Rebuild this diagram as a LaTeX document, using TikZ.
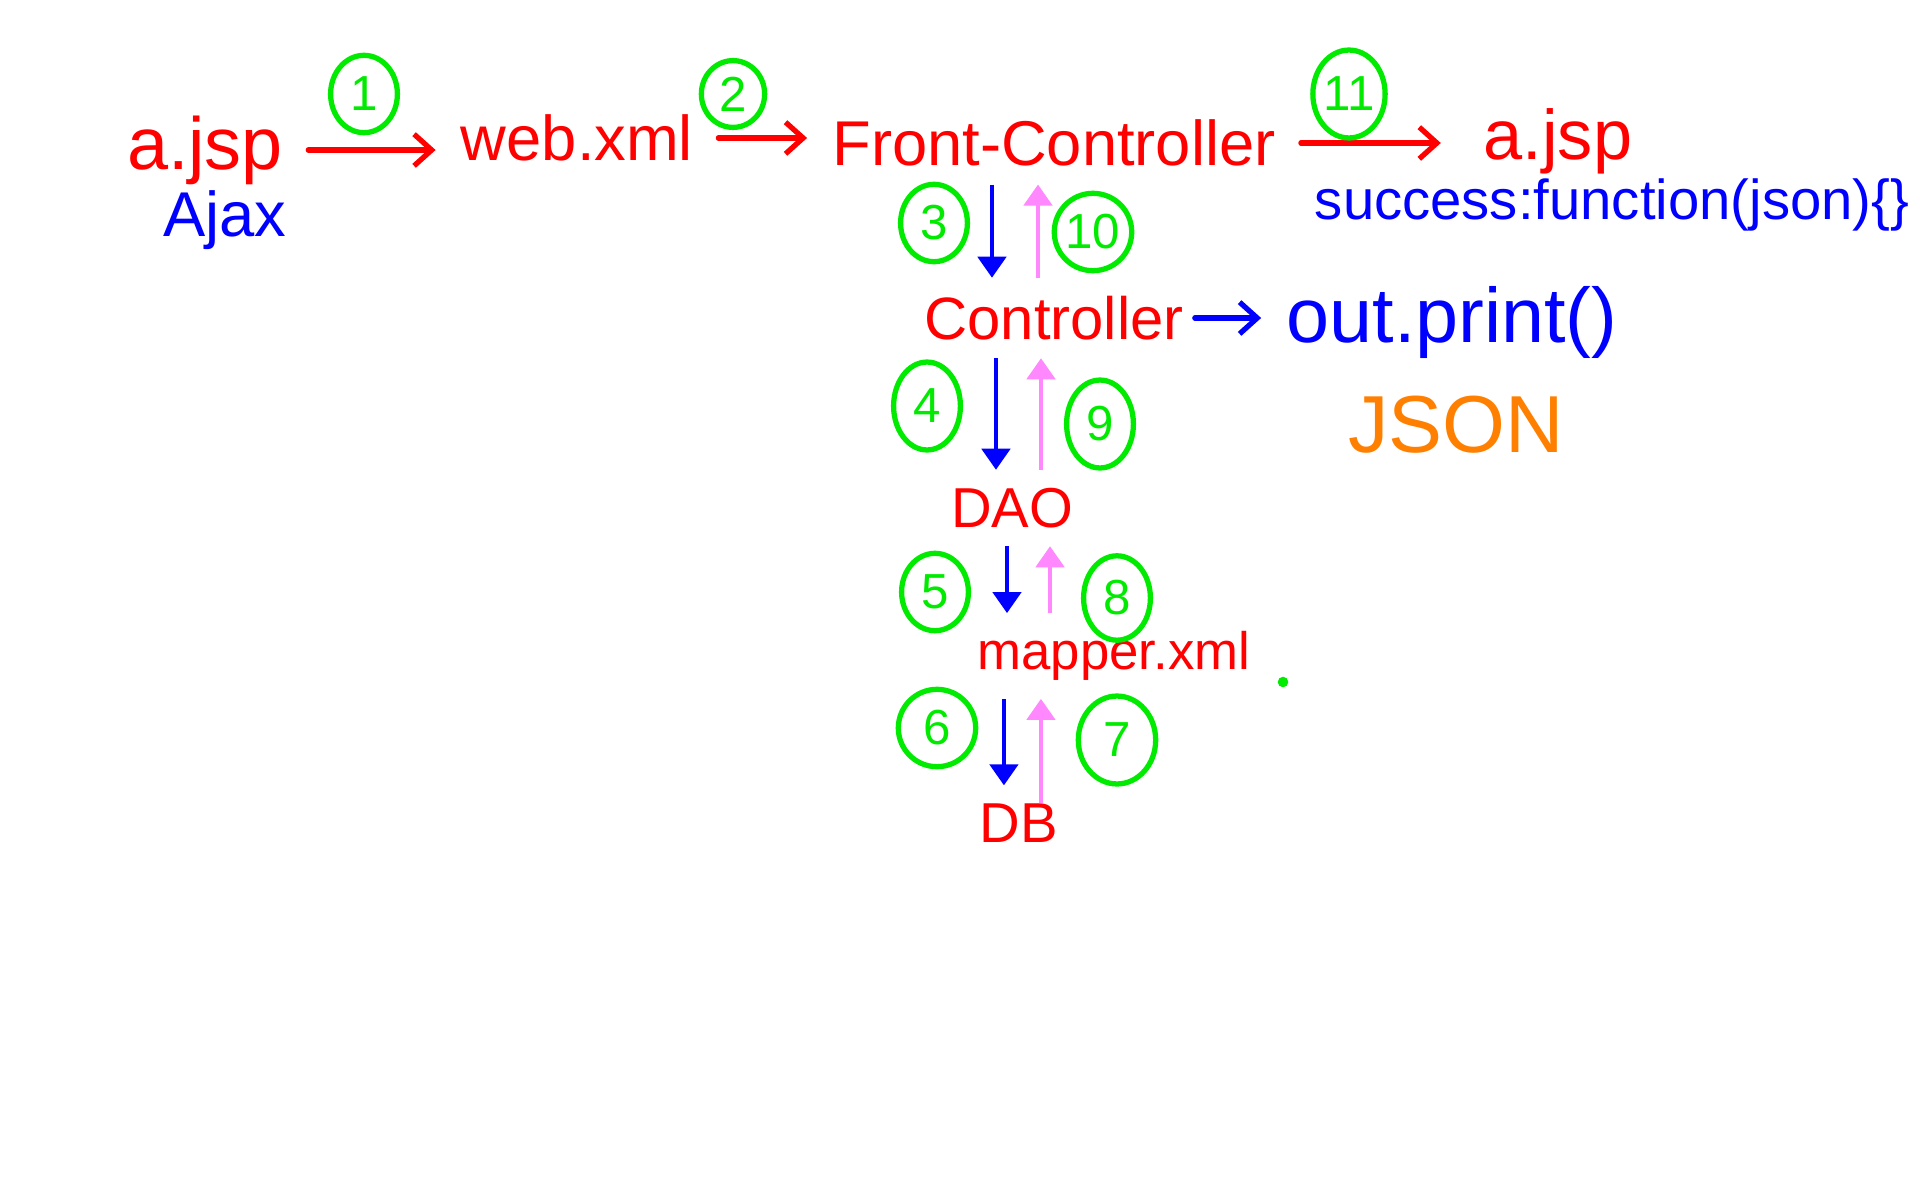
\documentclass[tikz,border=0pt]{standalone}
\usepackage{fontspec}
\setmainfont{Liberation Sans}
\usetikzlibrary{positioning,arrows.meta,shapes.geometric}
\definecolor{penred}{RGB}{255,0,0}
\definecolor{penblue}{RGB}{0,0,255}
\definecolor{pengreen}{RGB}{0,235,0}
\definecolor{penpink}{RGB}{255,136,255}
\definecolor{penorange}{RGB}{255,128,0}
\newcommand{\penfont}[1]{\fontsize{#1}{#1}\selectfont}
\tikzset{
  redword/.style={text=penred,inner sep=2pt},
  blueword/.style={text=penblue,inner sep=2pt},
  numcirc/.style={ellipse,draw=pengreen,text=pengreen,line width=1.5pt,inner sep=0pt,
    minimum width=19pt,minimum height=22pt,font=\penfont{14}},
  fwd/.style={-{Straight Barb[length=5pt,width=9pt]},line width=1.5pt,line cap=round,
    shorten <=5pt,shorten >=5pt},
  down/.style={-{Triangle[length=6pt,width=8pt]},draw=penblue,line width=1.3pt,
    shorten <=3pt,shorten >=3pt},
  back/.style={-{Triangle[length=6pt,width=8pt]},draw=penpink,line width=1.3pt,
    shorten <=3pt,shorten >=3pt}
}
\begin{document}
\begin{tikzpicture}[x=0.01cm,y=-0.01cm]
    \fill[white] (0,0) rectangle (1920,1200);
    \useasboundingbox (0,0) rectangle (1920,1200);
    % top row
    \node[redword,font=\penfont{21}] (ajsp) at (205,150) {a.jsp};
    \node[blueword,font=\penfont{18}] (ajax) at (225,220) {Ajax};
    \node[redword,font=\penfont{18}] (web) at (577,138) {web.xml};
    \node[redword,font=\penfont{18}] (fc) at (1054,143) {Front-Controller};
    \node[redword,font=\penfont{20}] (ajsp2) at (1558,141) {a.jsp};
    \node[blueword,font=\penfont{16}] (succ) at (1612,205) {success:function(json)\{\}};
    \draw[fwd,penred] (ajsp.east) -- (ajsp.east -| web.west);
    \draw[fwd,penred] (web.east) -- (web.east -| fc.west);
    \draw[fwd,penred,shorten >=10pt] (fc.east) -- (fc.east -| ajsp2.west);
    % column
    \node[redword,font=\penfont{17}] (ctl) at (1054,318) {Controller};
    \node[blueword,font=\penfont{22}] (out) at (1452,322) {out.print()};
    \node[text=penorange,font=\penfont{23}] (json) at (1456,425) {JSON};
    \node[redword,font=\penfont{16}] (dao) at (1012,508) {DAO};
    \node[redword,font=\penfont{15}] (mapper) at (1114,656) {mapper.xml};
    \node[redword,font=\penfont{16}] (db) at (1019,823) {DB};
    \draw[fwd,penblue,shorten <=1pt] (ctl.east) -- (ctl.east -| out.west);
    \fill[pengreen] (1283,682) circle (1.5pt);
    % steps
    \node[numcirc] (n1) at (364,94) {1};
    \node[numcirc,minimum width=18pt,minimum height=19pt] (n2) at (733,94) {2};
    \node[numcirc,minimum height=25pt] (n11) at (1349,94) {11};
    \node[numcirc] (n3) at (934,223) {3};
    \node[numcirc] (n10) at (1093,232) {10};
    \node[numcirc,minimum height=25pt] (n4) at (927,406) {4};
    \node[numcirc,minimum height=25pt] (n9) at (1100,424) {9};
    \node[numcirc] (n5) at (935,592) {5};
    \node[numcirc,minimum height=24pt] (n8) at (1117,598) {8};
    \node[numcirc,minimum width=22pt] (n6) at (937,728) {6};
    \node[numcirc,minimum width=22pt,minimum height=25pt] (n7) at (1117,740) {7};
    % calls and returns
    \coordinate (d3) at ([xshift=-0.62cm]fc.south);
    \coordinate (u10) at ([xshift=-0.16cm]fc.south);
    \draw[down] (d3) -- (d3 |- ctl.north);
    \draw[back] (u10 |- ctl.north) -- (u10);
    \coordinate (d4) at ([xshift=-0.58cm]ctl.south);
    \coordinate (u9) at ([xshift=-0.13cm]ctl.south);
    \draw[down] (d4) -- (d4 |- dao.north);
    \draw[back] (u9 |- dao.north) -- (u9);
    \coordinate (d5) at ([xshift=-0.05cm]dao.south);
    \coordinate (u8) at ([xshift=0.38cm]dao.south);
    \draw[down] (d5) -- (d5 |- mapper.north);
    \draw[back] (u8 |- mapper.north) -- (u8);
    \coordinate (d6) at ([xshift=-1.10cm]mapper.south);
    \coordinate (u7) at ([xshift=-0.73cm]mapper.south);
    \draw[down] (d6) -- (d6 |- db.north);
    \draw[back,shorten <=-2pt] (u7 |- db.north) -- (u7);
\end{tikzpicture}
\end{document}
